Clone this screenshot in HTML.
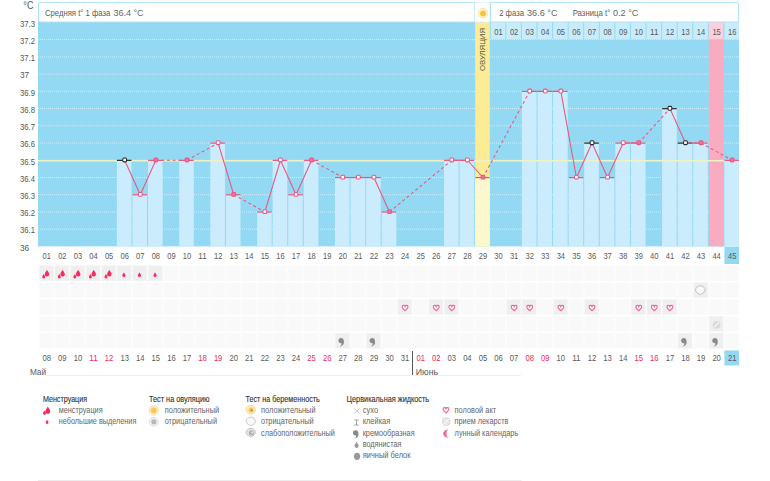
<!DOCTYPE html>
<html><head><meta charset="utf-8"><style>
html,body{margin:0;padding:0;background:#fff;}
body{width:770px;height:481px;overflow:hidden;position:relative;}
svg{position:absolute;left:0;top:0;}
text{font-family:"Liberation Sans",sans-serif;}
</style></head>
<body><svg width="770" height="481" viewBox="0 0 770 481">
<rect x="38" y="22" width="701" height="224.4" fill="#94d9f3"/>
<line x1="38" x2="739" y1="229.17" y2="229.17" stroke="#ffffff" stroke-opacity="0.55" stroke-width="1" stroke-dasharray="1 1"/>
<line x1="38" x2="739" y1="211.94" y2="211.94" stroke="#ffffff" stroke-opacity="0.55" stroke-width="1" stroke-dasharray="1 1"/>
<line x1="38" x2="739" y1="194.71" y2="194.71" stroke="#ffffff" stroke-opacity="0.55" stroke-width="1" stroke-dasharray="1 1"/>
<line x1="38" x2="739" y1="177.48" y2="177.48" stroke="#ffffff" stroke-opacity="0.55" stroke-width="1" stroke-dasharray="1 1"/>
<line x1="38" x2="739" y1="160.25" y2="160.25" stroke="#ffffff" stroke-opacity="0.55" stroke-width="1" stroke-dasharray="1 1"/>
<line x1="38" x2="739" y1="143.02" y2="143.02" stroke="#ffffff" stroke-opacity="0.55" stroke-width="1" stroke-dasharray="1 1"/>
<line x1="38" x2="739" y1="125.79" y2="125.79" stroke="#ffffff" stroke-opacity="0.55" stroke-width="1" stroke-dasharray="1 1"/>
<line x1="38" x2="739" y1="108.56" y2="108.56" stroke="#ffffff" stroke-opacity="0.55" stroke-width="1" stroke-dasharray="1 1"/>
<line x1="38" x2="739" y1="91.33" y2="91.33" stroke="#ffffff" stroke-opacity="0.55" stroke-width="1" stroke-dasharray="1 1"/>
<line x1="38" x2="739" y1="74.10" y2="74.10" stroke="#ffffff" stroke-opacity="0.55" stroke-width="1" stroke-dasharray="1 1"/>
<line x1="38" x2="739" y1="56.87" y2="56.87" stroke="#ffffff" stroke-opacity="0.55" stroke-width="1" stroke-dasharray="1 1"/>
<line x1="38" x2="739" y1="39.64" y2="39.64" stroke="#ffffff" stroke-opacity="0.55" stroke-width="1" stroke-dasharray="1 1"/>
<rect x="708.84" y="22" width="14.58" height="224.4" fill="#f9abc2"/>
<rect x="475.18" y="22" width="14.58" height="224.4" fill="#fcec96"/>
<rect x="116.89" y="160.25" width="14.58" height="86.15" fill="#cbecfc"/>
<rect x="132.47" y="194.71" width="14.58" height="51.69" fill="#cbecfc"/>
<rect x="148.04" y="160.25" width="14.58" height="86.15" fill="#cbecfc"/>
<rect x="179.20" y="160.25" width="14.58" height="86.15" fill="#cbecfc"/>
<rect x="210.36" y="143.02" width="14.58" height="103.38" fill="#cbecfc"/>
<rect x="225.93" y="194.71" width="14.58" height="51.69" fill="#cbecfc"/>
<rect x="257.09" y="211.94" width="14.58" height="34.46" fill="#cbecfc"/>
<rect x="272.67" y="160.25" width="14.58" height="86.15" fill="#cbecfc"/>
<rect x="288.24" y="194.71" width="14.58" height="51.69" fill="#cbecfc"/>
<rect x="303.82" y="160.25" width="14.58" height="86.15" fill="#cbecfc"/>
<rect x="334.98" y="177.48" width="14.58" height="68.92" fill="#cbecfc"/>
<rect x="350.56" y="177.48" width="14.58" height="68.92" fill="#cbecfc"/>
<rect x="366.13" y="177.48" width="14.58" height="68.92" fill="#cbecfc"/>
<rect x="381.71" y="211.94" width="14.58" height="34.46" fill="#cbecfc"/>
<rect x="444.02" y="160.25" width="14.58" height="86.15" fill="#cbecfc"/>
<rect x="459.60" y="160.25" width="14.58" height="86.15" fill="#cbecfc"/>
<rect x="475.18" y="177.48" width="14.58" height="68.92" fill="#fcf8cd"/>
<rect x="521.91" y="91.33" width="14.58" height="155.07" fill="#cbecfc"/>
<rect x="537.49" y="91.33" width="14.58" height="155.07" fill="#cbecfc"/>
<rect x="553.07" y="91.33" width="14.58" height="155.07" fill="#cbecfc"/>
<rect x="568.64" y="177.48" width="14.58" height="68.92" fill="#cbecfc"/>
<rect x="584.22" y="143.02" width="14.58" height="103.38" fill="#cbecfc"/>
<rect x="599.80" y="177.48" width="14.58" height="68.92" fill="#cbecfc"/>
<rect x="615.38" y="143.02" width="14.58" height="103.38" fill="#cbecfc"/>
<rect x="630.96" y="143.02" width="14.58" height="103.38" fill="#cbecfc"/>
<rect x="662.11" y="108.56" width="14.58" height="137.84" fill="#cbecfc"/>
<rect x="677.69" y="143.02" width="14.58" height="103.38" fill="#cbecfc"/>
<rect x="693.27" y="143.02" width="14.58" height="103.38" fill="#cbecfc"/>
<rect x="724.42" y="160.25" width="14.58" height="86.15" fill="#cbecfc"/>
<line x1="38" x2="739" y1="160.70" y2="160.70" stroke="#edf3c4" stroke-width="1.4"/>
<rect x="490.76" y="22" width="14.58" height="17.3" fill="#c8ecfb"/>
<text x="498.54" y="35.00" font-size="8.2" fill="#5a5a5a" text-anchor="middle" textLength="8.40" lengthAdjust="spacingAndGlyphs">01</text>
<rect x="506.33" y="22" width="14.58" height="17.3" fill="#c8ecfb"/>
<text x="514.12" y="35.00" font-size="8.2" fill="#5a5a5a" text-anchor="middle" textLength="8.40" lengthAdjust="spacingAndGlyphs">02</text>
<rect x="521.91" y="22" width="14.58" height="17.3" fill="#c8ecfb"/>
<text x="529.70" y="35.00" font-size="8.2" fill="#5a5a5a" text-anchor="middle" textLength="8.40" lengthAdjust="spacingAndGlyphs">03</text>
<rect x="537.49" y="22" width="14.58" height="17.3" fill="#c8ecfb"/>
<text x="545.28" y="35.00" font-size="8.2" fill="#5a5a5a" text-anchor="middle" textLength="8.40" lengthAdjust="spacingAndGlyphs">04</text>
<rect x="553.07" y="22" width="14.58" height="17.3" fill="#c8ecfb"/>
<text x="560.86" y="35.00" font-size="8.2" fill="#5a5a5a" text-anchor="middle" textLength="8.40" lengthAdjust="spacingAndGlyphs">05</text>
<rect x="568.64" y="22" width="14.58" height="17.3" fill="#c8ecfb"/>
<text x="576.43" y="35.00" font-size="8.2" fill="#5a5a5a" text-anchor="middle" textLength="8.40" lengthAdjust="spacingAndGlyphs">06</text>
<rect x="584.22" y="22" width="14.58" height="17.3" fill="#c8ecfb"/>
<text x="592.01" y="35.00" font-size="8.2" fill="#5a5a5a" text-anchor="middle" textLength="8.40" lengthAdjust="spacingAndGlyphs">07</text>
<rect x="599.80" y="22" width="14.58" height="17.3" fill="#c8ecfb"/>
<text x="607.59" y="35.00" font-size="8.2" fill="#5a5a5a" text-anchor="middle" textLength="8.40" lengthAdjust="spacingAndGlyphs">08</text>
<rect x="615.38" y="22" width="14.58" height="17.3" fill="#c8ecfb"/>
<text x="623.17" y="35.00" font-size="8.2" fill="#5a5a5a" text-anchor="middle" textLength="8.40" lengthAdjust="spacingAndGlyphs">09</text>
<rect x="630.96" y="22" width="14.58" height="17.3" fill="#c8ecfb"/>
<text x="638.74" y="35.00" font-size="8.2" fill="#5a5a5a" text-anchor="middle" textLength="8.40" lengthAdjust="spacingAndGlyphs">10</text>
<rect x="646.53" y="22" width="14.58" height="17.3" fill="#c8ecfb"/>
<text x="654.32" y="35.00" font-size="8.2" fill="#5a5a5a" text-anchor="middle" textLength="8.40" lengthAdjust="spacingAndGlyphs">11</text>
<rect x="662.11" y="22" width="14.58" height="17.3" fill="#c8ecfb"/>
<text x="669.90" y="35.00" font-size="8.2" fill="#5a5a5a" text-anchor="middle" textLength="8.40" lengthAdjust="spacingAndGlyphs">12</text>
<rect x="677.69" y="22" width="14.58" height="17.3" fill="#c8ecfb"/>
<text x="685.48" y="35.00" font-size="8.2" fill="#5a5a5a" text-anchor="middle" textLength="8.40" lengthAdjust="spacingAndGlyphs">13</text>
<rect x="693.27" y="22" width="14.58" height="17.3" fill="#c8ecfb"/>
<text x="701.06" y="35.00" font-size="8.2" fill="#5a5a5a" text-anchor="middle" textLength="8.40" lengthAdjust="spacingAndGlyphs">14</text>
<rect x="708.84" y="22" width="14.58" height="17.3" fill="#fbd0dc"/>
<text x="716.63" y="35.00" font-size="8.2" fill="#5a5a5a" text-anchor="middle" textLength="8.40" lengthAdjust="spacingAndGlyphs">15</text>
<rect x="724.42" y="22" width="14.58" height="17.3" fill="#c8ecfb"/>
<text x="732.21" y="35.00" font-size="8.2" fill="#5a5a5a" text-anchor="middle" textLength="8.40" lengthAdjust="spacingAndGlyphs">16</text>
<line x1="116.89" x2="131.47" y1="160.35" y2="160.35" stroke="#2a2a2a" stroke-width="1.2"/>
<line x1="132.47" x2="147.04" y1="194.81" y2="194.81" stroke="#e9557f" stroke-width="1.2"/>
<line x1="148.04" x2="162.62" y1="160.35" y2="160.35" stroke="#e9557f" stroke-width="1.2"/>
<line x1="179.20" x2="193.78" y1="160.35" y2="160.35" stroke="#e9557f" stroke-width="1.2"/>
<line x1="210.36" x2="224.93" y1="143.12" y2="143.12" stroke="#e9557f" stroke-width="1.2"/>
<line x1="225.93" x2="240.51" y1="194.81" y2="194.81" stroke="#e9557f" stroke-width="1.2"/>
<line x1="257.09" x2="271.67" y1="212.04" y2="212.04" stroke="#e9557f" stroke-width="1.2"/>
<line x1="272.67" x2="287.24" y1="160.35" y2="160.35" stroke="#e9557f" stroke-width="1.2"/>
<line x1="288.24" x2="302.82" y1="194.81" y2="194.81" stroke="#e9557f" stroke-width="1.2"/>
<line x1="303.82" x2="318.40" y1="160.35" y2="160.35" stroke="#e9557f" stroke-width="1.2"/>
<line x1="334.98" x2="349.56" y1="177.58" y2="177.58" stroke="#e9557f" stroke-width="1.2"/>
<line x1="350.56" x2="365.13" y1="177.58" y2="177.58" stroke="#e9557f" stroke-width="1.2"/>
<line x1="366.13" x2="380.71" y1="177.58" y2="177.58" stroke="#e9557f" stroke-width="1.2"/>
<line x1="381.71" x2="396.29" y1="212.04" y2="212.04" stroke="#e9557f" stroke-width="1.2"/>
<line x1="444.02" x2="458.60" y1="160.35" y2="160.35" stroke="#e9557f" stroke-width="1.2"/>
<line x1="459.60" x2="474.18" y1="160.35" y2="160.35" stroke="#e9557f" stroke-width="1.2"/>
<line x1="475.18" x2="489.76" y1="177.58" y2="177.58" stroke="#e9557f" stroke-width="1.2"/>
<line x1="521.91" x2="536.49" y1="91.43" y2="91.43" stroke="#e9557f" stroke-width="1.2"/>
<line x1="537.49" x2="552.07" y1="91.43" y2="91.43" stroke="#e9557f" stroke-width="1.2"/>
<line x1="553.07" x2="567.64" y1="91.43" y2="91.43" stroke="#e9557f" stroke-width="1.2"/>
<line x1="568.64" x2="583.22" y1="177.58" y2="177.58" stroke="#e9557f" stroke-width="1.2"/>
<line x1="584.22" x2="598.80" y1="143.12" y2="143.12" stroke="#2a2a2a" stroke-width="1.2"/>
<line x1="599.80" x2="614.38" y1="177.58" y2="177.58" stroke="#e9557f" stroke-width="1.2"/>
<line x1="615.38" x2="629.96" y1="143.12" y2="143.12" stroke="#e9557f" stroke-width="1.2"/>
<line x1="630.96" x2="645.53" y1="143.12" y2="143.12" stroke="#e9557f" stroke-width="1.2"/>
<line x1="662.11" x2="676.69" y1="108.66" y2="108.66" stroke="#2a2a2a" stroke-width="1.2"/>
<line x1="677.69" x2="692.27" y1="143.12" y2="143.12" stroke="#2a2a2a" stroke-width="1.2"/>
<line x1="693.27" x2="707.84" y1="143.12" y2="143.12" stroke="#e9557f" stroke-width="1.2"/>
<line x1="724.42" x2="739.00" y1="160.35" y2="160.35" stroke="#e9557f" stroke-width="1.2"/>
<line x1="124.68" y1="160.25" x2="140.26" y2="194.71" stroke="#e9557f" stroke-width="1.05"/>
<line x1="140.26" y1="194.71" x2="155.83" y2="160.25" stroke="#e9557f" stroke-width="1.05"/>
<line x1="155.83" y1="160.25" x2="186.99" y2="160.25" stroke="#e9557f" stroke-width="1.05" stroke-dasharray="3 2.6"/>
<line x1="186.99" y1="160.25" x2="218.14" y2="143.02" stroke="#e9557f" stroke-width="1.05" stroke-dasharray="3 2.6"/>
<line x1="218.14" y1="143.02" x2="233.72" y2="194.71" stroke="#e9557f" stroke-width="1.05"/>
<line x1="233.72" y1="194.71" x2="264.88" y2="211.94" stroke="#e9557f" stroke-width="1.05" stroke-dasharray="3 2.6"/>
<line x1="264.88" y1="211.94" x2="280.46" y2="160.25" stroke="#e9557f" stroke-width="1.05"/>
<line x1="280.46" y1="160.25" x2="296.03" y2="194.71" stroke="#e9557f" stroke-width="1.05"/>
<line x1="296.03" y1="194.71" x2="311.61" y2="160.25" stroke="#e9557f" stroke-width="1.05"/>
<line x1="311.61" y1="160.25" x2="342.77" y2="177.48" stroke="#e9557f" stroke-width="1.05" stroke-dasharray="3 2.6"/>
<line x1="342.77" y1="177.48" x2="358.34" y2="177.48" stroke="#e9557f" stroke-width="1.05"/>
<line x1="358.34" y1="177.48" x2="373.92" y2="177.48" stroke="#e9557f" stroke-width="1.05"/>
<line x1="373.92" y1="177.48" x2="389.50" y2="211.94" stroke="#e9557f" stroke-width="1.05"/>
<line x1="389.50" y1="211.94" x2="451.81" y2="160.25" stroke="#e9557f" stroke-width="1.05" stroke-dasharray="3 2.6"/>
<line x1="451.81" y1="160.25" x2="467.39" y2="160.25" stroke="#e9557f" stroke-width="1.05"/>
<line x1="467.39" y1="160.25" x2="482.97" y2="177.48" stroke="#e9557f" stroke-width="1.05"/>
<line x1="482.97" y1="177.48" x2="529.70" y2="91.33" stroke="#e9557f" stroke-width="1.05" stroke-dasharray="3 2.6"/>
<line x1="529.70" y1="91.33" x2="545.28" y2="91.33" stroke="#e9557f" stroke-width="1.05"/>
<line x1="545.28" y1="91.33" x2="560.86" y2="91.33" stroke="#e9557f" stroke-width="1.05"/>
<line x1="560.86" y1="91.33" x2="576.43" y2="177.48" stroke="#e9557f" stroke-width="1.05"/>
<line x1="576.43" y1="177.48" x2="592.01" y2="143.02" stroke="#e9557f" stroke-width="1.05"/>
<line x1="592.01" y1="143.02" x2="607.59" y2="177.48" stroke="#e9557f" stroke-width="1.05"/>
<line x1="607.59" y1="177.48" x2="623.17" y2="143.02" stroke="#e9557f" stroke-width="1.05"/>
<line x1="623.17" y1="143.02" x2="638.74" y2="143.02" stroke="#e9557f" stroke-width="1.05"/>
<line x1="638.74" y1="143.02" x2="669.90" y2="108.56" stroke="#e9557f" stroke-width="1.05" stroke-dasharray="3 2.6"/>
<line x1="669.90" y1="108.56" x2="685.48" y2="143.02" stroke="#e9557f" stroke-width="1.05"/>
<line x1="685.48" y1="143.02" x2="701.06" y2="143.02" stroke="#e9557f" stroke-width="1.05"/>
<line x1="701.06" y1="143.02" x2="732.21" y2="160.25" stroke="#e9557f" stroke-width="1.05" stroke-dasharray="3 2.6"/>
<rect x="122.78" y="158.05" width="3.8" height="3.8" rx="1.1" fill="#fff" stroke="#2a2a2a" stroke-width="1.05"/>
<rect x="138.36" y="192.51" width="3.8" height="3.8" rx="1.1" fill="#fff" stroke="#e9557f" stroke-width="1.05"/>
<rect x="153.93" y="158.05" width="3.8" height="3.8" rx="1.1" fill="#f37197" stroke="#e9557f" stroke-width="1.05"/>
<rect x="185.09" y="158.05" width="3.8" height="3.8" rx="1.1" fill="#f37197" stroke="#e9557f" stroke-width="1.05"/>
<rect x="216.24" y="140.82" width="3.8" height="3.8" rx="1.1" fill="#fff" stroke="#e9557f" stroke-width="1.05"/>
<rect x="231.82" y="192.51" width="3.8" height="3.8" rx="1.1" fill="#f37197" stroke="#e9557f" stroke-width="1.05"/>
<rect x="262.98" y="209.74" width="3.8" height="3.8" rx="1.1" fill="#fff" stroke="#e9557f" stroke-width="1.05"/>
<rect x="278.56" y="158.05" width="3.8" height="3.8" rx="1.1" fill="#fff" stroke="#e9557f" stroke-width="1.05"/>
<rect x="294.13" y="192.51" width="3.8" height="3.8" rx="1.1" fill="#fff" stroke="#e9557f" stroke-width="1.05"/>
<rect x="309.71" y="158.05" width="3.8" height="3.8" rx="1.1" fill="#f37197" stroke="#e9557f" stroke-width="1.05"/>
<rect x="340.87" y="175.28" width="3.8" height="3.8" rx="1.1" fill="#fff" stroke="#e9557f" stroke-width="1.05"/>
<rect x="356.44" y="175.28" width="3.8" height="3.8" rx="1.1" fill="#fff" stroke="#e9557f" stroke-width="1.05"/>
<rect x="372.02" y="175.28" width="3.8" height="3.8" rx="1.1" fill="#fff" stroke="#e9557f" stroke-width="1.05"/>
<rect x="387.60" y="209.74" width="3.8" height="3.8" rx="1.1" fill="#f37197" stroke="#e9557f" stroke-width="1.05"/>
<rect x="449.91" y="158.05" width="3.8" height="3.8" rx="1.1" fill="#fff" stroke="#e9557f" stroke-width="1.05"/>
<rect x="465.49" y="158.05" width="3.8" height="3.8" rx="1.1" fill="#fff" stroke="#e9557f" stroke-width="1.05"/>
<rect x="481.07" y="175.28" width="3.8" height="3.8" rx="1.1" fill="#f37197" stroke="#e9557f" stroke-width="1.05"/>
<rect x="527.80" y="89.13" width="3.8" height="3.8" rx="1.1" fill="#fff" stroke="#e9557f" stroke-width="1.05"/>
<rect x="543.38" y="89.13" width="3.8" height="3.8" rx="1.1" fill="#fff" stroke="#e9557f" stroke-width="1.05"/>
<rect x="558.96" y="89.13" width="3.8" height="3.8" rx="1.1" fill="#fff" stroke="#e9557f" stroke-width="1.05"/>
<rect x="574.53" y="175.28" width="3.8" height="3.8" rx="1.1" fill="#fff" stroke="#e9557f" stroke-width="1.05"/>
<rect x="590.11" y="140.82" width="3.8" height="3.8" rx="1.1" fill="#fff" stroke="#2a2a2a" stroke-width="1.05"/>
<rect x="605.69" y="175.28" width="3.8" height="3.8" rx="1.1" fill="#fff" stroke="#e9557f" stroke-width="1.05"/>
<rect x="621.27" y="140.82" width="3.8" height="3.8" rx="1.1" fill="#fff" stroke="#e9557f" stroke-width="1.05"/>
<rect x="636.84" y="140.82" width="3.8" height="3.8" rx="1.1" fill="#f37197" stroke="#e9557f" stroke-width="1.05"/>
<rect x="668.00" y="106.36" width="3.8" height="3.8" rx="1.1" fill="#fff" stroke="#2a2a2a" stroke-width="1.05"/>
<rect x="683.58" y="140.82" width="3.8" height="3.8" rx="1.1" fill="#fff" stroke="#2a2a2a" stroke-width="1.05"/>
<rect x="699.16" y="140.82" width="3.8" height="3.8" rx="1.1" fill="#f37197" stroke="#e9557f" stroke-width="1.05"/>
<rect x="730.31" y="158.05" width="3.8" height="3.8" rx="1.1" fill="#f37197" stroke="#e9557f" stroke-width="1.05"/>
<text x="20.00" y="250.70" font-size="8.3" fill="#555">36</text>
<text x="20.00" y="233.47" font-size="8.3" fill="#555" textLength="15.00" lengthAdjust="spacingAndGlyphs">36.1</text>
<text x="20.00" y="216.24" font-size="8.3" fill="#555" textLength="15.00" lengthAdjust="spacingAndGlyphs">36.2</text>
<text x="20.00" y="199.01" font-size="8.3" fill="#555" textLength="15.00" lengthAdjust="spacingAndGlyphs">36.3</text>
<text x="20.00" y="181.78" font-size="8.3" fill="#555" textLength="15.00" lengthAdjust="spacingAndGlyphs">36.4</text>
<text x="20.00" y="164.55" font-size="8.3" fill="#555" textLength="15.00" lengthAdjust="spacingAndGlyphs">36.5</text>
<text x="20.00" y="147.32" font-size="8.3" fill="#555" textLength="15.00" lengthAdjust="spacingAndGlyphs">36.6</text>
<text x="20.00" y="130.09" font-size="8.3" fill="#555" textLength="15.00" lengthAdjust="spacingAndGlyphs">36.7</text>
<text x="20.00" y="112.86" font-size="8.3" fill="#555" textLength="15.00" lengthAdjust="spacingAndGlyphs">36.8</text>
<text x="20.00" y="95.63" font-size="8.3" fill="#555" textLength="15.00" lengthAdjust="spacingAndGlyphs">36.9</text>
<text x="20.00" y="78.40" font-size="8.3" fill="#555">37</text>
<text x="20.00" y="61.17" font-size="8.3" fill="#555" textLength="15.00" lengthAdjust="spacingAndGlyphs">37.1</text>
<text x="20.00" y="43.94" font-size="8.3" fill="#555" textLength="15.00" lengthAdjust="spacingAndGlyphs">37.2</text>
<text x="20.00" y="26.71" font-size="8.3" fill="#555" textLength="15.00" lengthAdjust="spacingAndGlyphs">37.3</text>
<text x="23.30" y="9.00" font-size="10" fill="#5a5a5a" textLength="10.20" lengthAdjust="spacingAndGlyphs">°C</text>
<rect x="38.6" y="2.5" width="435.9" height="19.5" rx="1.5" fill="#fff" stroke="#b3e1f5" stroke-width="1.2"/>
<rect x="474.5" y="2.5" width="15.5" height="19.5" fill="#fff" stroke="#cdeaf6" stroke-width="1" stroke-dasharray="1 1"/>
<rect x="490.5" y="2.5" width="248" height="19.5" rx="1.5" fill="#fff" stroke="#b3e1f5" stroke-width="1.2"/>
<circle cx="483" cy="13.2" r="4.9" fill="#fdf1cc" stroke="#f8e0a0" stroke-width="0.7"/><circle cx="483" cy="13.4" r="2.9" fill="#f7c23c"/>
<text x="45.00" y="15.70" font-size="8.8" fill="#5a5a5a" textLength="65.20" lengthAdjust="spacingAndGlyphs">Средняя t° 1 фаза</text>
<text x="113.40" y="15.70" font-size="9.5" fill="#666" textLength="30.20" lengthAdjust="spacingAndGlyphs">36.4 °C</text>
<text x="499.20" y="15.70" font-size="8.8" fill="#5a5a5a" textLength="24.80" lengthAdjust="spacingAndGlyphs">2 фаза</text>
<text x="527.00" y="15.70" font-size="9.5" fill="#666" textLength="30.50" lengthAdjust="spacingAndGlyphs">36.6 °C</text>
<text x="572.70" y="15.70" font-size="8.8" fill="#5a5a5a" textLength="37.60" lengthAdjust="spacingAndGlyphs">Разница t°</text>
<text x="612.90" y="15.70" font-size="9.5" fill="#666" textLength="25.50" lengthAdjust="spacingAndGlyphs">0.2 °C</text>
<text transform="translate(485.2,49.5) rotate(-90)" font-size="7.6" fill="#555" text-anchor="middle" textLength="43" lengthAdjust="spacingAndGlyphs">ОВУЛЯЦИЯ</text>
<rect x="724.42" y="247" width="14.58" height="17" fill="#94d9f3"/>
<text x="46.79" y="258.90" font-size="8.3" fill="#5a5a5a" text-anchor="middle" textLength="8.40" lengthAdjust="spacingAndGlyphs">01</text>
<text x="62.37" y="258.90" font-size="8.3" fill="#5a5a5a" text-anchor="middle" textLength="8.40" lengthAdjust="spacingAndGlyphs">02</text>
<text x="77.94" y="258.90" font-size="8.3" fill="#5a5a5a" text-anchor="middle" textLength="8.40" lengthAdjust="spacingAndGlyphs">03</text>
<text x="93.52" y="258.90" font-size="8.3" fill="#5a5a5a" text-anchor="middle" textLength="8.40" lengthAdjust="spacingAndGlyphs">04</text>
<text x="109.10" y="258.90" font-size="8.3" fill="#5a5a5a" text-anchor="middle" textLength="8.40" lengthAdjust="spacingAndGlyphs">05</text>
<text x="124.68" y="258.90" font-size="8.3" fill="#5a5a5a" text-anchor="middle" textLength="8.40" lengthAdjust="spacingAndGlyphs">06</text>
<text x="140.26" y="258.90" font-size="8.3" fill="#5a5a5a" text-anchor="middle" textLength="8.40" lengthAdjust="spacingAndGlyphs">07</text>
<text x="155.83" y="258.90" font-size="8.3" fill="#5a5a5a" text-anchor="middle" textLength="8.40" lengthAdjust="spacingAndGlyphs">08</text>
<text x="171.41" y="258.90" font-size="8.3" fill="#5a5a5a" text-anchor="middle" textLength="8.40" lengthAdjust="spacingAndGlyphs">09</text>
<text x="186.99" y="258.90" font-size="8.3" fill="#5a5a5a" text-anchor="middle" textLength="8.40" lengthAdjust="spacingAndGlyphs">10</text>
<text x="202.57" y="258.90" font-size="8.3" fill="#5a5a5a" text-anchor="middle" textLength="8.40" lengthAdjust="spacingAndGlyphs">11</text>
<text x="218.14" y="258.90" font-size="8.3" fill="#5a5a5a" text-anchor="middle" textLength="8.40" lengthAdjust="spacingAndGlyphs">12</text>
<text x="233.72" y="258.90" font-size="8.3" fill="#5a5a5a" text-anchor="middle" textLength="8.40" lengthAdjust="spacingAndGlyphs">13</text>
<text x="249.30" y="258.90" font-size="8.3" fill="#5a5a5a" text-anchor="middle" textLength="8.40" lengthAdjust="spacingAndGlyphs">14</text>
<text x="264.88" y="258.90" font-size="8.3" fill="#5a5a5a" text-anchor="middle" textLength="8.40" lengthAdjust="spacingAndGlyphs">15</text>
<text x="280.46" y="258.90" font-size="8.3" fill="#5a5a5a" text-anchor="middle" textLength="8.40" lengthAdjust="spacingAndGlyphs">16</text>
<text x="296.03" y="258.90" font-size="8.3" fill="#5a5a5a" text-anchor="middle" textLength="8.40" lengthAdjust="spacingAndGlyphs">17</text>
<text x="311.61" y="258.90" font-size="8.3" fill="#5a5a5a" text-anchor="middle" textLength="8.40" lengthAdjust="spacingAndGlyphs">18</text>
<text x="327.19" y="258.90" font-size="8.3" fill="#5a5a5a" text-anchor="middle" textLength="8.40" lengthAdjust="spacingAndGlyphs">19</text>
<text x="342.77" y="258.90" font-size="8.3" fill="#5a5a5a" text-anchor="middle" textLength="8.40" lengthAdjust="spacingAndGlyphs">20</text>
<text x="358.34" y="258.90" font-size="8.3" fill="#5a5a5a" text-anchor="middle" textLength="8.40" lengthAdjust="spacingAndGlyphs">21</text>
<text x="373.92" y="258.90" font-size="8.3" fill="#5a5a5a" text-anchor="middle" textLength="8.40" lengthAdjust="spacingAndGlyphs">22</text>
<text x="389.50" y="258.90" font-size="8.3" fill="#5a5a5a" text-anchor="middle" textLength="8.40" lengthAdjust="spacingAndGlyphs">23</text>
<text x="405.08" y="258.90" font-size="8.3" fill="#5a5a5a" text-anchor="middle" textLength="8.40" lengthAdjust="spacingAndGlyphs">24</text>
<text x="420.66" y="258.90" font-size="8.3" fill="#5a5a5a" text-anchor="middle" textLength="8.40" lengthAdjust="spacingAndGlyphs">25</text>
<text x="436.23" y="258.90" font-size="8.3" fill="#5a5a5a" text-anchor="middle" textLength="8.40" lengthAdjust="spacingAndGlyphs">26</text>
<text x="451.81" y="258.90" font-size="8.3" fill="#5a5a5a" text-anchor="middle" textLength="8.40" lengthAdjust="spacingAndGlyphs">27</text>
<text x="467.39" y="258.90" font-size="8.3" fill="#5a5a5a" text-anchor="middle" textLength="8.40" lengthAdjust="spacingAndGlyphs">28</text>
<text x="482.97" y="258.90" font-size="8.3" fill="#5a5a5a" text-anchor="middle" textLength="8.40" lengthAdjust="spacingAndGlyphs">29</text>
<text x="498.54" y="258.90" font-size="8.3" fill="#5a5a5a" text-anchor="middle" textLength="8.40" lengthAdjust="spacingAndGlyphs">30</text>
<text x="514.12" y="258.90" font-size="8.3" fill="#5a5a5a" text-anchor="middle" textLength="8.40" lengthAdjust="spacingAndGlyphs">31</text>
<text x="529.70" y="258.90" font-size="8.3" fill="#5a5a5a" text-anchor="middle" textLength="8.40" lengthAdjust="spacingAndGlyphs">32</text>
<text x="545.28" y="258.90" font-size="8.3" fill="#5a5a5a" text-anchor="middle" textLength="8.40" lengthAdjust="spacingAndGlyphs">33</text>
<text x="560.86" y="258.90" font-size="8.3" fill="#5a5a5a" text-anchor="middle" textLength="8.40" lengthAdjust="spacingAndGlyphs">34</text>
<text x="576.43" y="258.90" font-size="8.3" fill="#5a5a5a" text-anchor="middle" textLength="8.40" lengthAdjust="spacingAndGlyphs">35</text>
<text x="592.01" y="258.90" font-size="8.3" fill="#5a5a5a" text-anchor="middle" textLength="8.40" lengthAdjust="spacingAndGlyphs">36</text>
<text x="607.59" y="258.90" font-size="8.3" fill="#5a5a5a" text-anchor="middle" textLength="8.40" lengthAdjust="spacingAndGlyphs">37</text>
<text x="623.17" y="258.90" font-size="8.3" fill="#5a5a5a" text-anchor="middle" textLength="8.40" lengthAdjust="spacingAndGlyphs">38</text>
<text x="638.74" y="258.90" font-size="8.3" fill="#5a5a5a" text-anchor="middle" textLength="8.40" lengthAdjust="spacingAndGlyphs">39</text>
<text x="654.32" y="258.90" font-size="8.3" fill="#5a5a5a" text-anchor="middle" textLength="8.40" lengthAdjust="spacingAndGlyphs">40</text>
<text x="669.90" y="258.90" font-size="8.3" fill="#5a5a5a" text-anchor="middle" textLength="8.40" lengthAdjust="spacingAndGlyphs">41</text>
<text x="685.48" y="258.90" font-size="8.3" fill="#5a5a5a" text-anchor="middle" textLength="8.40" lengthAdjust="spacingAndGlyphs">42</text>
<text x="701.06" y="258.90" font-size="8.3" fill="#5a5a5a" text-anchor="middle" textLength="8.40" lengthAdjust="spacingAndGlyphs">43</text>
<text x="716.63" y="258.90" font-size="8.3" fill="#5a5a5a" text-anchor="middle" textLength="8.40" lengthAdjust="spacingAndGlyphs">44</text>
<text x="732.21" y="258.90" font-size="8.3" fill="#5a5a5a" text-anchor="middle" textLength="8.40" lengthAdjust="spacingAndGlyphs">45</text>
<rect x="39.3" y="265.6" width="699.5" height="15.2" fill="#f9f9f9"/>
<rect x="39.3" y="282.5" width="699.5" height="15.2" fill="#f9f9f9"/>
<rect x="39.3" y="299.4" width="699.5" height="15.2" fill="#f9f9f9"/>
<rect x="39.3" y="316.3" width="699.5" height="15.2" fill="#f9f9f9"/>
<rect x="39.3" y="333.2" width="699.5" height="15.2" fill="#f9f9f9"/>
<rect x="53.38" y="265.6" width="1.6" height="82.8" fill="#fcfcfc"/>
<rect x="68.96" y="265.6" width="1.6" height="82.8" fill="#fcfcfc"/>
<rect x="84.53" y="265.6" width="1.6" height="82.8" fill="#fcfcfc"/>
<rect x="100.11" y="265.6" width="1.6" height="82.8" fill="#fcfcfc"/>
<rect x="115.69" y="265.6" width="1.6" height="82.8" fill="#fcfcfc"/>
<rect x="131.27" y="265.6" width="1.6" height="82.8" fill="#fcfcfc"/>
<rect x="146.84" y="265.6" width="1.6" height="82.8" fill="#fcfcfc"/>
<rect x="162.42" y="265.6" width="1.6" height="82.8" fill="#fcfcfc"/>
<rect x="178.00" y="265.6" width="1.6" height="82.8" fill="#fcfcfc"/>
<rect x="193.58" y="265.6" width="1.6" height="82.8" fill="#fcfcfc"/>
<rect x="209.16" y="265.6" width="1.6" height="82.8" fill="#fcfcfc"/>
<rect x="224.73" y="265.6" width="1.6" height="82.8" fill="#fcfcfc"/>
<rect x="240.31" y="265.6" width="1.6" height="82.8" fill="#fcfcfc"/>
<rect x="255.89" y="265.6" width="1.6" height="82.8" fill="#fcfcfc"/>
<rect x="271.47" y="265.6" width="1.6" height="82.8" fill="#fcfcfc"/>
<rect x="287.04" y="265.6" width="1.6" height="82.8" fill="#fcfcfc"/>
<rect x="302.62" y="265.6" width="1.6" height="82.8" fill="#fcfcfc"/>
<rect x="318.20" y="265.6" width="1.6" height="82.8" fill="#fcfcfc"/>
<rect x="333.78" y="265.6" width="1.6" height="82.8" fill="#fcfcfc"/>
<rect x="349.36" y="265.6" width="1.6" height="82.8" fill="#fcfcfc"/>
<rect x="364.93" y="265.6" width="1.6" height="82.8" fill="#fcfcfc"/>
<rect x="380.51" y="265.6" width="1.6" height="82.8" fill="#fcfcfc"/>
<rect x="396.09" y="265.6" width="1.6" height="82.8" fill="#fcfcfc"/>
<rect x="411.67" y="265.6" width="1.6" height="82.8" fill="#fcfcfc"/>
<rect x="427.24" y="265.6" width="1.6" height="82.8" fill="#fcfcfc"/>
<rect x="442.82" y="265.6" width="1.6" height="82.8" fill="#fcfcfc"/>
<rect x="458.40" y="265.6" width="1.6" height="82.8" fill="#fcfcfc"/>
<rect x="473.98" y="265.6" width="1.6" height="82.8" fill="#fcfcfc"/>
<rect x="489.56" y="265.6" width="1.6" height="82.8" fill="#fcfcfc"/>
<rect x="505.13" y="265.6" width="1.6" height="82.8" fill="#fcfcfc"/>
<rect x="520.71" y="265.6" width="1.6" height="82.8" fill="#fcfcfc"/>
<rect x="536.29" y="265.6" width="1.6" height="82.8" fill="#fcfcfc"/>
<rect x="551.87" y="265.6" width="1.6" height="82.8" fill="#fcfcfc"/>
<rect x="567.44" y="265.6" width="1.6" height="82.8" fill="#fcfcfc"/>
<rect x="583.02" y="265.6" width="1.6" height="82.8" fill="#fcfcfc"/>
<rect x="598.60" y="265.6" width="1.6" height="82.8" fill="#fcfcfc"/>
<rect x="614.18" y="265.6" width="1.6" height="82.8" fill="#fcfcfc"/>
<rect x="629.76" y="265.6" width="1.6" height="82.8" fill="#fcfcfc"/>
<rect x="645.33" y="265.6" width="1.6" height="82.8" fill="#fcfcfc"/>
<rect x="660.91" y="265.6" width="1.6" height="82.8" fill="#fcfcfc"/>
<rect x="676.49" y="265.6" width="1.6" height="82.8" fill="#fcfcfc"/>
<rect x="692.07" y="265.6" width="1.6" height="82.8" fill="#fcfcfc"/>
<rect x="707.64" y="265.6" width="1.6" height="82.8" fill="#fcfcfc"/>
<rect x="723.22" y="265.6" width="1.6" height="82.8" fill="#fcfcfc"/>
<rect x="39.40" y="265.6" width="13.98" height="15.2" fill="#efefef"/>
<path d="M47.00 269.67 C47.35 270.72 49.19 272.65 49.27 274.22 A2.27 2.27 0 0 1 44.73 274.22 C44.81 272.65 46.65 270.72 47.00 269.67Z" fill="#f72a63"/>
<path d="M43.70 274.09 C43.93 274.78 45.14 276.05 45.20 277.08 A1.49 1.49 0 0 1 42.21 277.08 C42.26 276.05 43.47 274.78 43.70 274.09Z" fill="#f72a63"/>
<rect x="54.98" y="265.6" width="13.98" height="15.2" fill="#efefef"/>
<path d="M62.58 269.67 C62.93 270.72 64.77 272.65 64.85 274.22 A2.27 2.27 0 0 1 60.30 274.22 C60.39 272.65 62.23 270.72 62.58 269.67Z" fill="#f72a63"/>
<path d="M59.28 274.09 C59.51 274.78 60.72 276.05 60.77 277.08 A1.49 1.49 0 0 1 57.78 277.08 C57.84 276.05 59.05 274.78 59.28 274.09Z" fill="#f72a63"/>
<rect x="70.56" y="265.6" width="13.98" height="15.2" fill="#efefef"/>
<path d="M78.16 269.67 C78.51 270.72 80.34 272.65 80.43 274.22 A2.27 2.27 0 0 1 75.88 274.22 C75.97 272.65 77.81 270.72 78.16 269.67Z" fill="#f72a63"/>
<path d="M74.86 274.09 C75.09 274.78 76.29 276.05 76.35 277.08 A1.49 1.49 0 0 1 73.36 277.08 C73.42 276.05 74.63 274.78 74.86 274.09Z" fill="#f72a63"/>
<rect x="86.13" y="265.6" width="13.98" height="15.2" fill="#efefef"/>
<path d="M93.73 269.67 C94.08 270.72 95.92 272.65 96.01 274.22 A2.27 2.27 0 0 1 91.46 274.22 C91.55 272.65 93.38 270.72 93.73 269.67Z" fill="#f72a63"/>
<path d="M90.43 274.09 C90.66 274.78 91.87 276.05 91.93 277.08 A1.49 1.49 0 0 1 88.94 277.08 C89.00 276.05 90.20 274.78 90.43 274.09Z" fill="#f72a63"/>
<rect x="101.71" y="265.6" width="13.98" height="15.2" fill="#efefef"/>
<path d="M109.31 269.67 C109.66 270.72 111.50 272.65 111.59 274.22 A2.27 2.27 0 0 1 107.04 274.22 C107.12 272.65 108.96 270.72 109.31 269.67Z" fill="#f72a63"/>
<path d="M106.01 274.09 C106.24 274.78 107.45 276.05 107.51 277.08 A1.49 1.49 0 0 1 104.52 277.08 C104.57 276.05 105.78 274.78 106.01 274.09Z" fill="#f72a63"/>
<rect x="117.29" y="265.6" width="13.98" height="15.2" fill="#efefef"/>
<path d="M123.89 272.36 C124.13 273.08 125.39 274.40 125.45 275.48 A1.56 1.56 0 0 1 122.33 275.48 C122.39 274.40 123.65 273.08 123.89 272.36Z" fill="#f72a63"/>
<rect x="132.87" y="265.6" width="13.98" height="15.2" fill="#efefef"/>
<path d="M139.47 272.36 C139.71 273.08 140.97 274.40 141.03 275.48 A1.56 1.56 0 0 1 137.91 275.48 C137.97 274.40 139.23 273.08 139.47 272.36Z" fill="#f72a63"/>
<rect x="148.44" y="265.6" width="13.98" height="15.2" fill="#efefef"/>
<path d="M155.04 272.36 C155.28 273.08 156.54 274.40 156.60 275.48 A1.56 1.56 0 0 1 153.48 275.48 C153.54 274.40 154.80 273.08 155.04 272.36Z" fill="#f72a63"/>
<rect x="397.69" y="299.4" width="13.98" height="15.2" fill="#efefef"/>
<path d="M405.08 306.50 C404.58 305.00 402.18 305.00 402.18 307.00 C402.18 308.50 404.08 309.60 405.08 310.70 C406.08 309.60 407.98 308.50 407.98 307.00 C407.98 305.00 405.58 305.00 405.08 306.50Z" fill="#fff" stroke="#f06890" stroke-width="1.15"/>
<rect x="428.84" y="299.4" width="13.98" height="15.2" fill="#efefef"/>
<path d="M436.23 306.50 C435.73 305.00 433.33 305.00 433.33 307.00 C433.33 308.50 435.23 309.60 436.23 310.70 C437.23 309.60 439.13 308.50 439.13 307.00 C439.13 305.00 436.73 305.00 436.23 306.50Z" fill="#fff" stroke="#f06890" stroke-width="1.15"/>
<rect x="444.42" y="299.4" width="13.98" height="15.2" fill="#efefef"/>
<path d="M451.81 306.50 C451.31 305.00 448.91 305.00 448.91 307.00 C448.91 308.50 450.81 309.60 451.81 310.70 C452.81 309.60 454.71 308.50 454.71 307.00 C454.71 305.00 452.31 305.00 451.81 306.50Z" fill="#fff" stroke="#f06890" stroke-width="1.15"/>
<rect x="506.73" y="299.4" width="13.98" height="15.2" fill="#efefef"/>
<path d="M514.12 306.50 C513.62 305.00 511.22 305.00 511.22 307.00 C511.22 308.50 513.12 309.60 514.12 310.70 C515.12 309.60 517.02 308.50 517.02 307.00 C517.02 305.00 514.62 305.00 514.12 306.50Z" fill="#fff" stroke="#f06890" stroke-width="1.15"/>
<rect x="522.31" y="299.4" width="13.98" height="15.2" fill="#efefef"/>
<path d="M529.70 306.50 C529.20 305.00 526.80 305.00 526.80 307.00 C526.80 308.50 528.70 309.60 529.70 310.70 C530.70 309.60 532.60 308.50 532.60 307.00 C532.60 305.00 530.20 305.00 529.70 306.50Z" fill="#fff" stroke="#f06890" stroke-width="1.15"/>
<rect x="553.47" y="299.4" width="13.98" height="15.2" fill="#efefef"/>
<path d="M560.86 306.50 C560.36 305.00 557.96 305.00 557.96 307.00 C557.96 308.50 559.86 309.60 560.86 310.70 C561.86 309.60 563.76 308.50 563.76 307.00 C563.76 305.00 561.36 305.00 560.86 306.50Z" fill="#fff" stroke="#f06890" stroke-width="1.15"/>
<rect x="584.62" y="299.4" width="13.98" height="15.2" fill="#efefef"/>
<path d="M592.01 306.50 C591.51 305.00 589.11 305.00 589.11 307.00 C589.11 308.50 591.01 309.60 592.01 310.70 C593.01 309.60 594.91 308.50 594.91 307.00 C594.91 305.00 592.51 305.00 592.01 306.50Z" fill="#fff" stroke="#f06890" stroke-width="1.15"/>
<rect x="631.36" y="299.4" width="13.98" height="15.2" fill="#efefef"/>
<path d="M638.74 306.50 C638.24 305.00 635.84 305.00 635.84 307.00 C635.84 308.50 637.74 309.60 638.74 310.70 C639.74 309.60 641.64 308.50 641.64 307.00 C641.64 305.00 639.24 305.00 638.74 306.50Z" fill="#fff" stroke="#f06890" stroke-width="1.15"/>
<rect x="646.93" y="299.4" width="13.98" height="15.2" fill="#efefef"/>
<path d="M654.32 306.50 C653.82 305.00 651.42 305.00 651.42 307.00 C651.42 308.50 653.32 309.60 654.32 310.70 C655.32 309.60 657.22 308.50 657.22 307.00 C657.22 305.00 654.82 305.00 654.32 306.50Z" fill="#fff" stroke="#f06890" stroke-width="1.15"/>
<rect x="662.51" y="299.4" width="13.98" height="15.2" fill="#efefef"/>
<path d="M669.90 306.50 C669.40 305.00 667.00 305.00 667.00 307.00 C667.00 308.50 668.90 309.60 669.90 310.70 C670.90 309.60 672.80 308.50 672.80 307.00 C672.80 305.00 670.40 305.00 669.90 306.50Z" fill="#fff" stroke="#f06890" stroke-width="1.15"/>
<rect x="335.38" y="333.2" width="13.98" height="15.2" fill="#efefef"/>
<circle cx="341.07" cy="340.60" r="2.60" fill="#8a8a8a"/><path d="M343.62 340.40 C344.57 343.60 343.07 345.80 339.77 346.50 C341.47 345.20 341.97 344.00 341.37 343.00Z" fill="#8a8a8a"/>
<rect x="366.53" y="333.2" width="13.98" height="15.2" fill="#efefef"/>
<circle cx="372.22" cy="340.60" r="2.60" fill="#8a8a8a"/><path d="M374.77 340.40 C375.72 343.60 374.22 345.80 370.92 346.50 C372.62 345.20 373.12 344.00 372.52 343.00Z" fill="#8a8a8a"/>
<rect x="678.09" y="333.2" width="13.98" height="15.2" fill="#efefef"/>
<circle cx="683.78" cy="340.60" r="2.60" fill="#8a8a8a"/><path d="M686.33 340.40 C687.28 343.60 685.78 345.80 682.48 346.50 C684.18 345.20 684.68 344.00 684.08 343.00Z" fill="#8a8a8a"/>
<rect x="709.24" y="333.2" width="13.98" height="15.2" fill="#efefef"/>
<circle cx="714.93" cy="340.60" r="2.60" fill="#8a8a8a"/><path d="M717.48 340.40 C718.43 343.60 716.93 345.80 713.63 346.50 C715.33 345.20 715.83 344.00 715.23 343.00Z" fill="#8a8a8a"/>
<rect x="693.67" y="282.5" width="13.98" height="15.2" fill="#efefef"/>
<path d="M700.36 294.6 C699.36 293.6 695.56 293.2 695.56 290.0 A4.8 4.1 0 1 1 705.16 290.0 C705.16 293.2 701.36 293.6 700.36 294.6Z" fill="#fafafa" stroke="#b9b9b9" stroke-width="0.9"/>
<rect x="709.24" y="316.3" width="13.98" height="15.2" fill="#efefef"/>
<circle cx="716.63" cy="324.8" r="3.9" fill="#dadada" stroke="#e4e4e4" stroke-width="0.6"/><line x1="714.23" y1="327.2" x2="719.03" y2="322.4" stroke="#fafafa" stroke-width="1.1"/>
<rect x="724.42" y="350.5" width="14.58" height="15" fill="#94d9f3"/>
<text x="46.79" y="361.40" font-size="8.3" fill="#5a5a5a" text-anchor="middle" textLength="8.50" lengthAdjust="spacingAndGlyphs">08</text>
<text x="62.37" y="361.40" font-size="8.3" fill="#5a5a5a" text-anchor="middle" textLength="8.50" lengthAdjust="spacingAndGlyphs">09</text>
<text x="77.94" y="361.40" font-size="8.3" fill="#5a5a5a" text-anchor="middle" textLength="8.50" lengthAdjust="spacingAndGlyphs">10</text>
<text x="93.52" y="361.40" font-size="8.3" fill="#f02a62" text-anchor="middle" textLength="8.50" lengthAdjust="spacingAndGlyphs">11</text>
<text x="109.10" y="361.40" font-size="8.3" fill="#f02a62" text-anchor="middle" textLength="8.50" lengthAdjust="spacingAndGlyphs">12</text>
<text x="124.68" y="361.40" font-size="8.3" fill="#5a5a5a" text-anchor="middle" textLength="8.50" lengthAdjust="spacingAndGlyphs">13</text>
<text x="140.26" y="361.40" font-size="8.3" fill="#5a5a5a" text-anchor="middle" textLength="8.50" lengthAdjust="spacingAndGlyphs">14</text>
<text x="155.83" y="361.40" font-size="8.3" fill="#5a5a5a" text-anchor="middle" textLength="8.50" lengthAdjust="spacingAndGlyphs">15</text>
<text x="171.41" y="361.40" font-size="8.3" fill="#5a5a5a" text-anchor="middle" textLength="8.50" lengthAdjust="spacingAndGlyphs">16</text>
<text x="186.99" y="361.40" font-size="8.3" fill="#5a5a5a" text-anchor="middle" textLength="8.50" lengthAdjust="spacingAndGlyphs">17</text>
<text x="202.57" y="361.40" font-size="8.3" fill="#f02a62" text-anchor="middle" textLength="8.50" lengthAdjust="spacingAndGlyphs">18</text>
<text x="218.14" y="361.40" font-size="8.3" fill="#f02a62" text-anchor="middle" textLength="8.50" lengthAdjust="spacingAndGlyphs">19</text>
<text x="233.72" y="361.40" font-size="8.3" fill="#5a5a5a" text-anchor="middle" textLength="8.50" lengthAdjust="spacingAndGlyphs">20</text>
<text x="249.30" y="361.40" font-size="8.3" fill="#5a5a5a" text-anchor="middle" textLength="8.50" lengthAdjust="spacingAndGlyphs">21</text>
<text x="264.88" y="361.40" font-size="8.3" fill="#5a5a5a" text-anchor="middle" textLength="8.50" lengthAdjust="spacingAndGlyphs">22</text>
<text x="280.46" y="361.40" font-size="8.3" fill="#5a5a5a" text-anchor="middle" textLength="8.50" lengthAdjust="spacingAndGlyphs">23</text>
<text x="296.03" y="361.40" font-size="8.3" fill="#5a5a5a" text-anchor="middle" textLength="8.50" lengthAdjust="spacingAndGlyphs">24</text>
<text x="311.61" y="361.40" font-size="8.3" fill="#f02a62" text-anchor="middle" textLength="8.50" lengthAdjust="spacingAndGlyphs">25</text>
<text x="327.19" y="361.40" font-size="8.3" fill="#f02a62" text-anchor="middle" textLength="8.50" lengthAdjust="spacingAndGlyphs">26</text>
<text x="342.77" y="361.40" font-size="8.3" fill="#5a5a5a" text-anchor="middle" textLength="8.50" lengthAdjust="spacingAndGlyphs">27</text>
<text x="358.34" y="361.40" font-size="8.3" fill="#5a5a5a" text-anchor="middle" textLength="8.50" lengthAdjust="spacingAndGlyphs">28</text>
<text x="373.92" y="361.40" font-size="8.3" fill="#5a5a5a" text-anchor="middle" textLength="8.50" lengthAdjust="spacingAndGlyphs">29</text>
<text x="389.50" y="361.40" font-size="8.3" fill="#5a5a5a" text-anchor="middle" textLength="8.50" lengthAdjust="spacingAndGlyphs">30</text>
<text x="405.08" y="361.40" font-size="8.3" fill="#5a5a5a" text-anchor="middle" textLength="8.50" lengthAdjust="spacingAndGlyphs">31</text>
<text x="420.66" y="361.40" font-size="8.3" fill="#f02a62" text-anchor="middle" textLength="8.50" lengthAdjust="spacingAndGlyphs">01</text>
<text x="436.23" y="361.40" font-size="8.3" fill="#f02a62" text-anchor="middle" textLength="8.50" lengthAdjust="spacingAndGlyphs">02</text>
<text x="451.81" y="361.40" font-size="8.3" fill="#5a5a5a" text-anchor="middle" textLength="8.50" lengthAdjust="spacingAndGlyphs">03</text>
<text x="467.39" y="361.40" font-size="8.3" fill="#5a5a5a" text-anchor="middle" textLength="8.50" lengthAdjust="spacingAndGlyphs">04</text>
<text x="482.97" y="361.40" font-size="8.3" fill="#5a5a5a" text-anchor="middle" textLength="8.50" lengthAdjust="spacingAndGlyphs">05</text>
<text x="498.54" y="361.40" font-size="8.3" fill="#5a5a5a" text-anchor="middle" textLength="8.50" lengthAdjust="spacingAndGlyphs">06</text>
<text x="514.12" y="361.40" font-size="8.3" fill="#5a5a5a" text-anchor="middle" textLength="8.50" lengthAdjust="spacingAndGlyphs">07</text>
<text x="529.70" y="361.40" font-size="8.3" fill="#f02a62" text-anchor="middle" textLength="8.50" lengthAdjust="spacingAndGlyphs">08</text>
<text x="545.28" y="361.40" font-size="8.3" fill="#f02a62" text-anchor="middle" textLength="8.50" lengthAdjust="spacingAndGlyphs">09</text>
<text x="560.86" y="361.40" font-size="8.3" fill="#5a5a5a" text-anchor="middle" textLength="8.50" lengthAdjust="spacingAndGlyphs">10</text>
<text x="576.43" y="361.40" font-size="8.3" fill="#5a5a5a" text-anchor="middle" textLength="8.50" lengthAdjust="spacingAndGlyphs">11</text>
<text x="592.01" y="361.40" font-size="8.3" fill="#5a5a5a" text-anchor="middle" textLength="8.50" lengthAdjust="spacingAndGlyphs">12</text>
<text x="607.59" y="361.40" font-size="8.3" fill="#5a5a5a" text-anchor="middle" textLength="8.50" lengthAdjust="spacingAndGlyphs">13</text>
<text x="623.17" y="361.40" font-size="8.3" fill="#5a5a5a" text-anchor="middle" textLength="8.50" lengthAdjust="spacingAndGlyphs">14</text>
<text x="638.74" y="361.40" font-size="8.3" fill="#f02a62" text-anchor="middle" textLength="8.50" lengthAdjust="spacingAndGlyphs">15</text>
<text x="654.32" y="361.40" font-size="8.3" fill="#f02a62" text-anchor="middle" textLength="8.50" lengthAdjust="spacingAndGlyphs">16</text>
<text x="669.90" y="361.40" font-size="8.3" fill="#5a5a5a" text-anchor="middle" textLength="8.50" lengthAdjust="spacingAndGlyphs">17</text>
<text x="685.48" y="361.40" font-size="8.3" fill="#5a5a5a" text-anchor="middle" textLength="8.50" lengthAdjust="spacingAndGlyphs">18</text>
<text x="701.06" y="361.40" font-size="8.3" fill="#5a5a5a" text-anchor="middle" textLength="8.50" lengthAdjust="spacingAndGlyphs">19</text>
<text x="716.63" y="361.40" font-size="8.3" fill="#5a5a5a" text-anchor="middle" textLength="8.50" lengthAdjust="spacingAndGlyphs">20</text>
<text x="732.21" y="361.40" font-size="8.3" fill="#5a5a5a" text-anchor="middle" textLength="8.50" lengthAdjust="spacingAndGlyphs">21</text>
<line x1="412.5" x2="412.5" y1="351" y2="375" stroke="#555" stroke-width="1"/>
<line x1="46" x2="521" y1="375.5" y2="375.5" stroke="#eeeeee" stroke-width="1"/>
<text x="29.90" y="374.60" font-size="9.5" fill="#5a5a5a" textLength="16.20" lengthAdjust="spacingAndGlyphs">Май</text>
<text x="415.70" y="374.50" font-size="9.5" fill="#5a5a5a" textLength="22.40" lengthAdjust="spacingAndGlyphs">Июнь</text>
<line x1="38" x2="521.5" y1="480.5" y2="480.5" stroke="#ececec" stroke-width="1"/>
<text x="42.90" y="401.70" font-size="8.2" fill="#333" textLength="44.20" lengthAdjust="spacingAndGlyphs" stroke="#333" stroke-width="0.12">Менструация</text>
<text x="58.80" y="412.80" font-size="8.9" fill="#666" textLength="43.80" lengthAdjust="spacingAndGlyphs">менструация</text>
<text x="58.80" y="424.20" font-size="8.9" fill="#666" textLength="77.60" lengthAdjust="spacingAndGlyphs">небольшие выделения</text>
<path d="M47.80 406.47 C48.18 407.61 50.17 409.70 50.27 411.41 A2.47 2.47 0 0 1 45.33 411.41 C45.42 409.70 47.42 407.61 47.80 406.47Z" fill="#f72a63"/>
<path d="M44.50 410.16 C44.74 410.88 46.00 412.20 46.06 413.28 A1.56 1.56 0 0 1 42.94 413.28 C43.00 412.20 44.26 410.88 44.50 410.16Z" fill="#f72a63"/>
<path d="M47.10 419.63 C47.32 420.29 48.48 421.50 48.53 422.49 A1.43 1.43 0 0 1 45.67 422.49 C45.73 421.50 46.88 420.29 47.10 419.63Z" fill="#f72a63"/>
<text x="148.90" y="401.70" font-size="8.2" fill="#333" textLength="60.70" lengthAdjust="spacingAndGlyphs" stroke="#333" stroke-width="0.12">Тест на овуляцию</text>
<text x="164.70" y="412.80" font-size="8.9" fill="#666" textLength="54.40" lengthAdjust="spacingAndGlyphs">положительный</text>
<text x="164.70" y="424.20" font-size="8.9" fill="#666" textLength="52.30" lengthAdjust="spacingAndGlyphs">отрицательный</text>
<circle cx="153.7" cy="410.4" r="4.8" fill="#fcebc6" stroke="#f8dca0" stroke-width="0.6"/><circle cx="153.7" cy="410.3" r="2.9" fill="#f7c95c"/>
<circle cx="153.7" cy="421.9" r="4.5" fill="#f2f2f2" stroke="#d6d6d6" stroke-width="0.7"/><circle cx="153.9" cy="421.8" r="2.6" fill="#b9b9b9"/>
<text x="245.50" y="401.70" font-size="8.2" fill="#333" textLength="74.30" lengthAdjust="spacingAndGlyphs" stroke="#333" stroke-width="0.12">Тест на беременность</text>
<text x="261.00" y="412.80" font-size="8.9" fill="#666" textLength="54.60" lengthAdjust="spacingAndGlyphs">положительный</text>
<text x="261.00" y="424.20" font-size="8.9" fill="#666" textLength="52.70" lengthAdjust="spacingAndGlyphs">отрицательный</text>
<text x="261.00" y="435.60" font-size="8.9" fill="#666" textLength="73.80" lengthAdjust="spacingAndGlyphs">слабоположительный</text>
<path d="M250.80 414.30 C249.80 413.30 246.20 412.80 246.20 409.60 A4.6 4.1 0 1 1 255.40 409.60 C255.40 412.80 251.80 413.30 250.80 414.30Z" fill="#fdf0c8" stroke="#f5cf78" stroke-width="0.9"/>
<circle cx="251.2" cy="409.8" r="2.6" fill="#f7c95a"/><circle cx="251.6" cy="410.4" r="0.9" fill="#a08040"/>
<path d="M250.80 425.90 C249.80 424.90 246.20 424.40 246.20 421.20 A4.6 4.1 0 1 1 255.40 421.20 C255.40 424.40 251.80 424.90 250.80 425.90Z" fill="#f8f8f8" stroke="#c4c4c4" stroke-width="0.9"/>
<path d="M250.80 437.10 C249.80 436.10 246.20 435.60 246.20 432.40 A4.6 4.1 0 1 1 255.40 432.40 C255.40 435.60 251.80 436.10 250.80 437.10Z" fill="#e6e6e6" stroke="#bdbdbd" stroke-width="0.9"/>
<circle cx="251.4" cy="432.8" r="2.6" fill="#b0b0b0"/><circle cx="252.2" cy="432.6" r="1.0" fill="#eeeeee"/>
<text x="346.60" y="401.70" font-size="8.2" fill="#333" textLength="82.60" lengthAdjust="spacingAndGlyphs" stroke="#333" stroke-width="0.12">Цервикальная жидкость</text>
<text x="362.70" y="412.80" font-size="8.9" fill="#666" textLength="15.50" lengthAdjust="spacingAndGlyphs">сухо</text>
<text x="362.70" y="424.20" font-size="8.9" fill="#666" textLength="27.50" lengthAdjust="spacingAndGlyphs">клейкая</text>
<text x="362.70" y="435.60" font-size="8.9" fill="#666" textLength="51.90" lengthAdjust="spacingAndGlyphs">кремообразная</text>
<text x="362.70" y="447.00" font-size="8.9" fill="#666" textLength="38.80" lengthAdjust="spacingAndGlyphs">водянистая</text>
<text x="362.70" y="458.40" font-size="8.9" fill="#666" textLength="47.80" lengthAdjust="spacingAndGlyphs">яичный белок</text>
<path d="M354 408.3 L359.7 413.8 M359.7 408.3 L354 413.8" stroke="#bbb" stroke-width="0.8"/>
<path d="M354.4 420 H358.7 M356.55 420 V425 M354.4 425 H358.7" stroke="#999" stroke-width="0.9" fill="none"/>
<circle cx="355.60" cy="432.80" r="2.60" fill="#888"/><path d="M358.15 432.60 C359.10 435.80 357.60 438.00 354.30 438.70 C356.00 437.40 356.50 436.20 355.90 435.20Z" fill="#888"/>
<path d="M356.60 441.68 C356.92 442.64 358.60 444.40 358.68 445.84 A2.08 2.08 0 0 1 354.52 445.84 C354.60 444.40 356.28 442.64 356.60 441.68Z" fill="#999"/>
<ellipse cx="357.05" cy="456.3" rx="3.1" ry="3.6" fill="#999"/>
<text x="454.60" y="412.80" font-size="8.9" fill="#666" textLength="41.50" lengthAdjust="spacingAndGlyphs">половой акт</text>
<text x="454.60" y="424.20" font-size="8.9" fill="#666" textLength="53.80" lengthAdjust="spacingAndGlyphs">прием лекарств</text>
<text x="454.60" y="435.60" font-size="8.9" fill="#666" textLength="63.70" lengthAdjust="spacingAndGlyphs">лунный календарь</text>
<path d="M446.00 408.70 C445.50 407.20 443.10 407.20 443.10 409.20 C443.10 410.70 445.00 411.80 446.00 412.90 C447.00 411.80 448.90 410.70 448.90 409.20 C448.90 407.20 446.50 407.20 446.00 408.70Z" fill="#fff" stroke="#f06890" stroke-width="1.1"/>
<circle cx="446.2" cy="421.6" r="4.0" fill="#e8e8e8" stroke="#d4d4d4" stroke-width="0.8"/><line x1="443.6" y1="424.2" x2="448.8" y2="419.0" stroke="#fff" stroke-width="1"/>
<defs><linearGradient id="mg" x1="0" x2="1" y1="0" y2="0"><stop offset="0" stop-color="#ee3a6e"/><stop offset="1" stop-color="#f9b6c9"/></linearGradient></defs>
<path d="M448.4 429.6 A4.1 4.1 0 1 0 448.4 437.6 A5.2 5.2 0 0 1 448.4 429.6Z" fill="url(#mg)"/>
</svg></body></html>
